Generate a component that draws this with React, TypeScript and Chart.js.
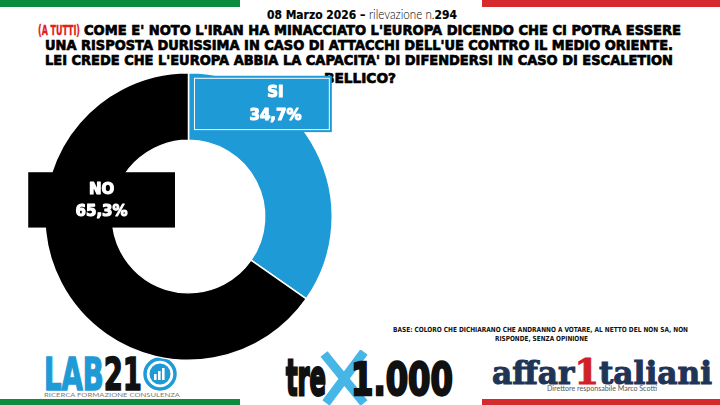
import React, { useEffect, useLayoutEffect, useRef } from "react";
import { Chart, registerables } from "chart.js";

Chart.register(...registerables);

// ---- data ----
const categories = ["SI", "NO"];
const values = [34.7, 65.3];
const sliceColors = ["#1E9AD6", "#000000"];

const titleTag = "(A TUTTI)";
const titleLines = [
  "COME E' NOTO L'IRAN HA MINACCIATO L'EUROPA DICENDO CHE CI POTRA ESSERE",
  "UNA RISPOSTA DURISSIMA IN CASO DI ATTACCHI DELL'UE CONTRO IL MEDIO ORIENTE.",
  "LEI CREDE CHE L'EUROPA ABBIA LA CAPACITA' DI DIFENDERSI IN CASO DI ESCALETION",
  "BELLICO?",
];
const dateBold = "08 Marzo 2026 \u2013 ";
const dateLight = "rilevazione n.";
const dateNum = "294";
const baseLines = [
  "BASE: COLORO CHE DICHIARANO CHE ANDRANNO A VOTARE, AL NETTO DEL NON SA, NON",
  "RISPONDE, SENZA OPINIONE",
];

// label box layout, relative to chart center in units of outer radius
const labelLayout = [
  { x0: 0.024, x1: 0.997, y0: -0.979, y1: -0.587, tx: 0.605, ty1: -0.857, ty2: -0.695, fill: "#1E9AD6", inner: true },
  { x0: -1.115, x1: -0.094, y0: -0.308, y1: 0.077, tx: -0.605, ty1: -0.182, ty2: -0.028, fill: "#000000", inner: false },
];

const HEAVY = "'DejaVu Sans', sans-serif";

const labelPlugin = {
  id: "boxLabels",
  afterDatasetsDraw(chart: any) {
    const meta = chart.getDatasetMeta(0);
    const arc = meta.data[0];
    if (!arc) return;
    const { x: cx, y: cy, outerRadius: r } = arc.getProps(["x", "y", "outerRadius"], true);
    const ctx = chart.ctx;
    ctx.save();
    labelLayout.forEach((L, i) => {
      const x0 = cx + L.x0 * r, x1 = cx + L.x1 * r;
      const y0 = cy + L.y0 * r, y1 = cy + L.y1 * r;
      ctx.fillStyle = L.fill;
      ctx.fillRect(x0, y0, x1 - x0, y1 - y0);
      if (L.inner) {
        ctx.strokeStyle = "#ffffff";
        ctx.lineWidth = 1;
        ctx.strokeRect(x0 + 2.5, y0 + 2.5, x1 - x0 - 5, y1 - y0 - 5);
      }
      ctx.fillStyle = "#ffffff";
      ctx.strokeStyle = "#ffffff";
      ctx.lineWidth = 1.1;
      ctx.lineJoin = "round";
      ctx.textAlign = "center";
      ctx.textBaseline = "middle";
      ctx.font = "bold 15px " + HEAVY;
      const tx = cx + L.tx * r;
      const t1 = String(chart.data.labels[i]);
      const v = chart.data.datasets[0].data[i] as number;
      const t2 = v.toFixed(1).replace(".", ",") + "%";
      ctx.fillText(t1, tx, cy + L.ty1 * r);
      ctx.strokeText(t1, tx, cy + L.ty1 * r);
      ctx.fillText(t2, tx, cy + L.ty2 * r);
      ctx.strokeText(t2, tx, cy + L.ty2 * r);
    });
    ctx.restore();
  },
};

type FitProps = {
  x: number;
  top: number;
  w?: number;
  sy?: number;
  fs: number;
  font?: string;
  weight?: number | string;
  color?: string;
  stroke?: number;
  z?: number;
  children: React.ReactNode;
  style?: React.CSSProperties;
};

function Fit({ x, top, w, sy = 1, fs, font = HEAVY, weight = 700, color = "#000", stroke = 0, z = 1, children, style }: FitProps) {
  const ref = useRef<HTMLSpanElement>(null);
  useLayoutEffect(() => {
    const el = ref.current;
    if (!el || !w) return;
    const fit = () => {
      el.style.transform = "none";
      const nw = el.getBoundingClientRect().width;
      if (nw > 0) el.style.transform = `scale(${w / nw}, ${sy})`;
    };
    fit();
    (document as any).fonts?.ready?.then(fit);
  }, [w, sy]);
  return (
    <span
      ref={ref}
      style={{
        position: "absolute",
        left: x,
        top,
        fontSize: fs,
        lineHeight: `${fs}px`,
        fontFamily: font,
        fontWeight: weight as any,
        color,
        whiteSpace: "nowrap",
        transformOrigin: "0 0",
        zIndex: z,
        WebkitTextStrokeWidth: stroke ? `${stroke}px` : undefined,
        ...style,
      } as any}
    >
      {children}
    </span>
  );
}

export default function App() {
  const canvasRef = useRef<HTMLCanvasElement>(null);

  useEffect(() => {
    const canvas = canvasRef.current;
    if (!canvas) return;
    const chart = new Chart(canvas, {
      type: "doughnut",
      data: {
        labels: categories,
        datasets: [
          {
            data: values,
            backgroundColor: sliceColors,
            borderColor: "#ffffff",
            borderWidth: 1.5,
          },
        ],
      },
      options: {
        responsive: false,
        animation: false,
        cutout: "53%",
        layout: { padding: { left: 44, top: 72, right: 387, bottom: 44 } },
        plugins: {
          legend: { display: false },
          tooltip: { enabled: false },
        },
      },
      plugins: [labelPlugin],
    });
    return () => chart.destroy();
  }, []);

  const titleFs = 14;
  const tk = 0.48; // cap-center offset for DejaVu Sans at line-height 1
  const titleCy = [29.5, 44.5, 59.5, 78];
  const ts = 0.7;

  return (
    <div
      style={{
        position: "fixed",
        left: 0,
        top: 0,
        width: 720,
        height: 405,
        background: "#ffffff",
        overflow: "hidden",
      }}
    >
      {/* flag strips */}
      <div style={{ position: "absolute", left: 0, top: 0, width: 240, height: 7, background: "#0E8C3E" }} />
      <div style={{ position: "absolute", left: 482, top: 0, width: 238, height: 7, background: "#D52B2E" }} />
      <div style={{ position: "absolute", left: 0, top: 399, width: 240, height: 6, background: "#0E8C3E" }} />
      <div style={{ position: "absolute", left: 482, top: 399, width: 238, height: 6, background: "#D52B2E" }} />

      {/* date */}
      <Fit x={267} top={14 - tk * 12} w={190} fs={12} weight={700} stroke={0.2}>
        {dateBold}
        <span style={{ fontWeight: 300, fontFamily: "Lato, sans-serif", fontSize: 13, WebkitTextStrokeWidth: 0 } as any}>{dateLight}</span>
        {dateNum}
      </Fit>

      {/* title */}
      <Fit x={38} top={titleCy[0] - tk * titleFs} w={42} fs={titleFs} color="#E0201B" stroke={0.4}>
        {titleTag}
      </Fit>
      <Fit x={84} top={titleCy[0] - tk * titleFs} w={597} fs={titleFs} stroke={ts}>
        {titleLines[0]}
      </Fit>
      <Fit x={45} top={titleCy[1] - tk * titleFs} w={628} fs={titleFs} stroke={ts}>
        {titleLines[1]}
      </Fit>
      <Fit x={45} top={titleCy[2] - tk * titleFs} w={628} fs={titleFs} stroke={ts}>
        {titleLines[2]}
      </Fit>
      <Fit x={324} top={titleCy[3] - tk * titleFs} w={72} fs={titleFs} stroke={ts}>
        {titleLines[3]}
      </Fit>

      {/* base note */}
      <Fit x={393} top={330 - tk * 7} w={295} fs={7} weight={700} color="#111">
        {baseLines[0]}
      </Fit>
      <Fit x={495} top={339 - tk * 7} w={93} fs={7} weight={700} color="#111">
        {baseLines[1]}
      </Fit>

      {/* LAB21 logo */}
      <Fit x={44} top={374 - tk * 44} w={98} fs={44} weight={700} color="#1E9AD6" stroke={1.6}>
        LAB<span style={{ color: "#111" }}>21</span>
      </Fit>
      <svg style={{ position: "absolute", left: 143, top: 357, zIndex: 1 }} width={34} height={34} viewBox="0 0 34 34">
        <circle cx={17} cy={17} r={15} fill="none" stroke="#1E9AD6" strokeWidth={3.5} />
        <circle cx={17} cy={17} r={10.5} fill="#1E9AD6" />
        <rect x={11} y={17} width={2.6} height={6} fill="#fff" />
        <rect x={15} y={14} width={2.6} height={9} fill="#fff" />
        <rect x={19} y={11} width={2.6} height={12} fill="#fff" />
      </svg>
      <Fit x={44} top={395 - 0.53 * 6.5} w={136} fs={6.5} font="Lato, sans-serif" weight={400} color="#7a7a7a">
        RICERCA FORMAZIONE CONSULENZA
      </Fit>

      {/* trex1.000 logo */}
      <svg style={{ position: "absolute", left: 318, top: 350, zIndex: 1 }} width={52} height={55} viewBox="0 0 52 55">
        <line x1={6} y1={4} x2={46} y2={53} stroke="#45B6E6" strokeWidth={9} />
        <line x1={46} y1={2} x2={8} y2={53} stroke="#45B6E6" strokeWidth={9} />
      </svg>
      <Fit x={286} top={395 - 0.846 * 44 * 1.15} w={40} sy={1.15} fs={44} weight={700} color="#111" stroke={2.5} z={2}>
        tre
      </Fit>
      <Fit x={351} top={395 - 0.846 * 44} w={102} fs={44} weight={700} color="#111" stroke={2.5} z={2}>
        1.000
      </Fit>

      {/* affaritaliani logo */}
      <Fit x={492} top={382 - 0.846 * 31} w={220} fs={31} font="'DejaVu Serif', serif" weight={700} color="#1E3557" stroke={1}>
        affar<span style={{ color: "#D0202A", fontSize: 35 }}>1</span>taliani
      </Fit>
      <Fit x={547} top={389 - 0.53 * 7} w={110} fs={7} font="Lato, sans-serif" weight={400} color="#555">
        Direttore responsabile Marco Scotti
      </Fit>

      <canvas
        ref={canvasRef}
        width={720}
        height={405}
        style={{ position: "absolute", left: 0, top: 0, width: 720, height: 405, zIndex: 3, pointerEvents: "none" }}
      />
    </div>
  );
}
